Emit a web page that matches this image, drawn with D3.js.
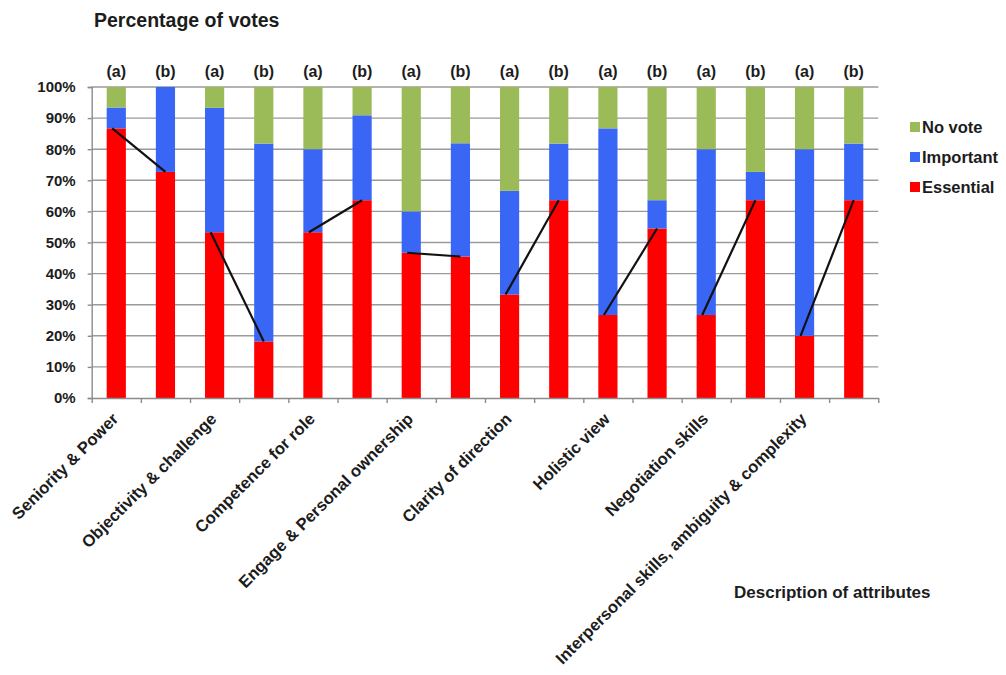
<!DOCTYPE html>
<html>
<head>
<meta charset="utf-8">
<script src="https://cdn.jsdelivr.net/npm/d3@7"></script>
<style>
  html, body { margin: 0; padding: 0; background: #ffffff; }
  svg { display: block; }
  text { font-family: "Liberation Sans", Arial, sans-serif; font-weight: bold; fill: #1c1c1c; }
</style>
</head>
<body>
<svg id="chart" width="1006" height="675"></svg>
<script>
// Attributes, each voted on in two rounds (a) and (b)
const attributes = [
  "Seniority & Power",
  "Objectivity & challenge",
  "Competence for role",
  "Engage & Personal ownership",
  "Clarity of direction",
  "Holistic view",
  "Negotiation skills",
  "Interpersonal skills, ambiguity & complexity"
];
const rounds = ["(a)", "(b)"];

// Share of votes per bar (%), in order attribute 1 (a), attribute 1 (b), ...
const essential = [86.7, 72.7, 53.3, 18.2, 53.3, 63.6, 46.7, 45.5, 33.3, 63.6, 26.7, 54.5, 26.7, 63.6, 20.0, 63.6];
const important = [6.7, 27.3, 40.0, 63.6, 26.7, 27.3, 13.3, 36.4, 33.3, 18.2, 60.0, 9.1, 53.3, 9.1, 60.0, 18.2];
const noVote    = [6.6, 0.0, 6.7, 18.2, 20.0, 9.1, 40.0, 18.2, 33.4, 18.2, 13.3, 36.4, 20.0, 27.3, 20.0, 18.2];

const yTicks = [0, 10, 20, 30, 40, 50, 60, 70, 80, 90, 100];

const seriesNames = ["Essential", "Important", "No vote"];
const seriesColors = { "Essential": "#ff0000", "Important": "#3a66f5", "No vote": "#9bbb59" };

const svg = d3.select("#chart");
const plotLeft = 91.7, plotRight = 878.3, plotTop = 87, plotBottom = 398;

const bars = [];
attributes.forEach((a, i) => rounds.forEach((r, j) => {
  const k = i * 2 + j;
  bars.push({ key: k, attribute: a, round: r,
              "Essential": essential[k], "Important": important[k], "No vote": noVote[k] });
}));

const x = d3.scaleBand()
  .domain(bars.map(d => d.key))
  .range([plotLeft, plotRight])
  .paddingInner(0.61)
  .paddingOuter(0.305);

// category boundaries, used for the tick marks under the bars
const xEdge = d3.scaleLinear().domain([0, bars.length]).range([plotLeft, plotRight]);

const y = d3.scaleLinear().domain([0, 100]).range([plotBottom, plotTop]);

// horizontal gridlines
svg.append("g")
  .selectAll("line")
  .data(yTicks.slice(1))
  .join("line")
  .attr("x1", plotLeft).attr("x2", plotRight)
  .attr("y1", d => y(d)).attr("y2", d => y(d))
  .attr("stroke", "#9a9a9a").attr("stroke-width", 1.4);

// stacked bars
const stack = d3.stack().keys(seriesNames);
const layers = stack(bars);
svg.append("g")
  .selectAll("g")
  .data(layers)
  .join("g")
  .attr("fill", d => seriesColors[d.key])
  .selectAll("rect")
  .data(d => d)
  .join("rect")
  .attr("x", d => x(d.data.key))
  .attr("width", x.bandwidth())
  .attr("y", d => y(d[1]))
  .attr("height", d => Math.max(0, y(d[0]) - y(d[1])));

// y axis
const yAxis = svg.append("g")
  .attr("transform", `translate(${plotLeft},0)`)
  .call(d3.axisLeft(y).tickValues(yTicks).tickFormat(d => d + "%").tickSize(4).tickPadding(12));
yAxis.select(".domain").attr("stroke", "#8c8c8c").attr("stroke-width", 1.4);
yAxis.selectAll(".tick line").attr("stroke", "#8c8c8c").attr("stroke-width", 1.4);
yAxis.selectAll(".tick text")
  .attr("font-size", 15).attr("font-family", "Liberation Sans, Arial, sans-serif")
  .attr("font-weight", "bold").attr("fill", "#1c1c1c");

// x axis with tick marks at category edges
const xAxis = svg.append("g")
  .attr("transform", `translate(0,${plotBottom})`)
  .call(d3.axisBottom(xEdge).tickValues(d3.range(bars.length + 1)).tickFormat("").tickSize(5).tickSizeOuter(0));
xAxis.select(".domain").attr("stroke", "#8c8c8c").attr("stroke-width", 1.4);
xAxis.selectAll(".tick line").attr("stroke", "#8c8c8c").attr("stroke-width", 1.4);

// round labels above each bar
svg.append("g")
  .selectAll("text")
  .data(bars)
  .join("text")
  .attr("x", d => x(d.key) + x.bandwidth() / 2)
  .attr("y", 77)
  .attr("text-anchor", "middle")
  .attr("font-size", 16)
  .text(d => d.round);

// attribute names under the (a) bar of each pair
svg.append("g")
  .selectAll("text")
  .data(bars.filter(d => d.round === "(a)"))
  .join("text")
  .attr("transform", d => `translate(${x(d.key) + x.bandwidth() / 2 + 3},${plotBottom + 22}) rotate(-45)`)
  .attr("text-anchor", "end")
  .attr("font-size", 16.6)
  .text(d => d.attribute);

// change in "Essential" between round (a) and round (b)
const pairs = attributes.map((a, i) => ({ a: bars[i * 2], b: bars[i * 2 + 1] }));
svg.append("g")
  .selectAll("line")
  .data(pairs)
  .join("line")
  .attr("x1", d => x(d.a.key) + x.bandwidth() / 2 - 4)
  .attr("y1", d => y(d.a["Essential"]))
  .attr("x2", d => x(d.b.key) + x.bandwidth() / 2)
  .attr("y2", d => y(d.b["Essential"]))
  .attr("stroke", "#111").attr("stroke-width", 2.2);

// legend
const legendItems = ["No vote", "Important", "Essential"];
const legend = svg.append("g")
  .selectAll("g")
  .data(legendItems)
  .join("g")
  .attr("transform", (d, i) => `translate(910,${127 + i * 30})`);
legend.append("rect")
  .attr("x", 0).attr("y", -5).attr("width", 10).attr("height", 10)
  .attr("fill", d => seriesColors[d]);
legend.append("text")
  .attr("x", 12).attr("y", 6)
  .attr("font-size", 16.5)
  .text(d => d);

// axis titles
svg.append("text")
  .attr("x", 94).attr("y", 27)
  .attr("font-size", 19.5)
  .attr("fill", "#2a2a2a")
  .text("Percentage of votes");

svg.append("text")
  .attr("x", 734).attr("y", 598)
  .attr("font-size", 17)
  .text("Description of attributes");
</script>
</body>
</html>
